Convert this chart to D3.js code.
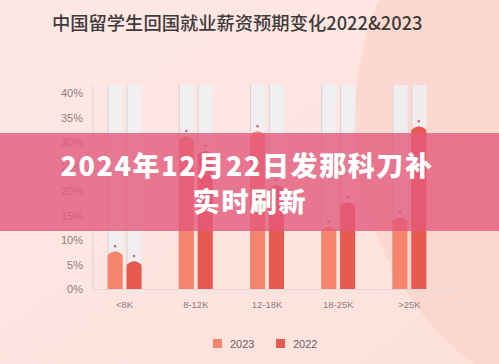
<!DOCTYPE html>
<html><head><meta charset="utf-8">
<script src="https://cdn.jsdelivr.net/npm/d3@7"></script>
<style>
html,body{margin:0;padding:0;background:#fde7e3;}
svg{display:block;}
</style></head>
<body>
<svg id="c" width="499" height="364"></svg>
<script>
const categories = ["<8K","8-12K","12-18K","18-25K",">25K"];
const seriesNames = ["2023","2022"];
const values2023 = [7.5, 31, 32, 12.5, 14.5];
const values2022 = [5.5, 28, 21, 17.5, 33];
const yTicks = [0,5,10,15,20,25,30,35,40];
const titleText = "中国留学生回国就业薪资预期变化2022&2023";
const bannerLines = ["2024年12月22日发那科刀补","实时刷新"];
const colors = {"2023":"#f4846b","2022":"#e85a51"};

const svg = d3.select("#c");
const W = 499, H = 364;

// background
const defs = svg.append("defs");
const g1 = defs.append("linearGradient").attr("id","bg").attr("x1","0").attr("y1","0").attr("x2","1").attr("y2","1");
g1.append("stop").attr("offset","0").attr("stop-color","#fde8e5");
g1.append("stop").attr("offset","1").attr("stop-color","#fde1db");
svg.append("rect").attr("width",W).attr("height",H).attr("fill","url(#bg)");
svg.append("ellipse").attr("cx",640).attr("cy",120).attr("rx",285).attr("ry",300).attr("fill","#fad4c9").attr("opacity",0.7);

// title
svg.append("text").attr("x",52).attr("y",30).attr("font-family","Noto Sans CJK SC").attr("font-size",18.3)
  .attr("font-weight",500).attr("fill","#403b3b").text(titleText);

const y = d3.scaleLinear().domain([0,40]).range([289,93]);
const x0 = d3.scaleBand().domain(categories).range([89,445]);
const x1 = d3.scaleBand().domain(seriesNames).range([-17,17]).paddingInner(0.2);

const data = categories.map((c,i)=>({cat:c, vals:[{s:"2023",v:values2023[i]},{s:"2022",v:values2022[i]}]}));

// background columns
const gcol = svg.append("g");
data.forEach(d=>{
  d.vals.forEach(p=>{
    const cx = x0(d.cat)+x0.bandwidth()/2 + x1(p.s);
    gcol.append("rect").attr("x",cx).attr("y",85).attr("width",x1.bandwidth()).attr("height",y(0)-85)
      .attr("fill","#eef0f3").attr("opacity",0.85);
    gcol.append("line").attr("x1",cx+0.5).attr("x2",cx+0.5).attr("y1",85).attr("y2",y(0))
      .attr("stroke","#d9d2d3").attr("stroke-width",1);
  });
});

// y axis
const yAxis = d3.axisLeft(y).tickValues(yTicks).tickSize(0).tickPadding(10).tickFormat(d=>d+"%");
const ya = svg.append("g").attr("transform","translate(93,0)").call(yAxis);
ya.select(".domain").attr("stroke","#ddd6d6").attr("d","M0,85V"+y(0));
ya.selectAll("text").attr("font-family","Liberation Sans, Arial").attr("font-size",11).attr("fill","#8a8080");

// x axis
const xAxis = d3.axisBottom(x0).tickSize(0).tickPadding(12);
const xa = svg.append("g").attr("transform","translate(0,"+y(0)+")").call(xAxis);
xa.select(".domain").attr("stroke","#e2dada").attr("d","M93,0.5H460");
xa.selectAll("text").attr("font-family","Liberation Sans, Arial").attr("font-size",9.5).attr("fill","#8a8080");

// bars
const gb = svg.append("g");
function barPath(x,w,top,bottom){
  return `M${x},${bottom}V${top+4}Q${x},${top+1} ${x+w/2},${top-1}Q${x+w},${top+1} ${x+w},${top+4}V${bottom}Z`;
}
data.forEach(d=>{
  d.vals.forEach(p=>{
    const bx = x0(d.cat)+x0.bandwidth()/2 + x1(p.s);
    const w = x1.bandwidth();
    gb.append("path").attr("d",barPath(bx,w,y(p.v),y(0))).attr("fill",colors[p.s]);
    gb.append("circle").attr("cx",bx+w/2).attr("cy",y(p.v)-6).attr("r",1.3).attr("fill","#c86a66");
  });
});

// legend
const lg = svg.append("g");
const legendX = [213,276];
seriesNames.forEach((s,i)=>{
  lg.append("rect").attr("x",legendX[i]).attr("y",339).attr("width",9).attr("height",9).attr("fill",colors[s]);
  lg.append("text").attr("x",legendX[i]+17).attr("y",347.5).attr("font-family","Liberation Sans, Arial")
    .attr("font-size",11).attr("fill","#6a6262").text(s);
});

// banner overlay
svg.append("rect").attr("x",0).attr("y",133).attr("width",W).attr("height",98).attr("fill","rgb(227,90,124)").attr("opacity",0.8);
svg.append("text").attr("x",247).attr("y",176).attr("text-anchor","middle").attr("font-family","Noto Sans CJK SC")
  .attr("font-weight",900).attr("font-size",27).attr("fill","#fff").attr("letter-spacing",1.6).text(bannerLines[0]);
svg.append("text").attr("x",250).attr("y",212).attr("text-anchor","middle").attr("font-family","Noto Sans CJK SC")
  .attr("font-weight",900).attr("font-size",27).attr("fill","#fff").attr("letter-spacing",1.6).text(bannerLines[1]);
</script>
</body></html>
